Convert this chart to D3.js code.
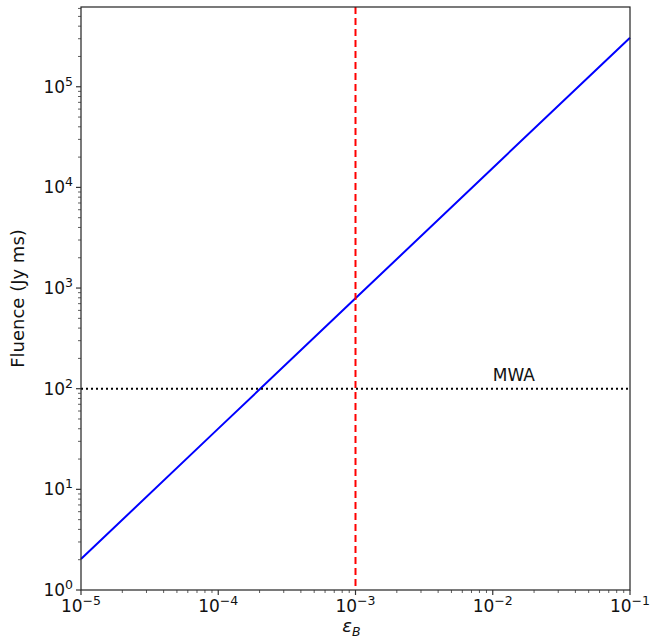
<!DOCTYPE html>
<html><head><meta charset="utf-8">
<script src="https://cdn.jsdelivr.net/npm/d3@7"></script>
<style>body{margin:0;background:#fff}svg{display:block}text{font-family:"DejaVu Sans",sans-serif;fill:#111}</style>
</head><body><svg id="c" width="653" height="638"></svg>
<script>
const epsB = [1e-5, 1e-4, 1e-3, 1e-2, 1e-1];
const fluence = [2.03, 40.1, 791, 15600, 307000];
const xDomain = [1e-5, 1e-1];
const yDomain = [1, 6.2e5];
const xTickExps = [-5, -4, -3, -2, -1];
const yTickExps = [0, 1, 2, 3, 4, 5];
const epsMarker = 1e-3;
const mwaLevel = 100;
const mwaLabel = "MWA";
const yLabel = "Fluence (Jy ms)";

const L = 81, R = 630, T = 7, B = 590;
const svg = d3.select("#c");
const x = d3.scaleLog().domain(xDomain).range([L, R]);
const y = d3.scaleLog().domain(yDomain).range([B, T]);

// lines
const line = d3.line().x((d,i)=>x(epsB[i])).y(d=>y(d));
svg.append("path").datum(fluence).attr("d", line).attr("fill","none").attr("stroke","#0000ff").attr("stroke-width",2);
svg.append("line").attr("x1",x(epsMarker)).attr("x2",x(epsMarker)).attr("y1",T).attr("y2",B)
  .attr("stroke","#ff0000").attr("stroke-width",2).attr("stroke-dasharray","7,4");
svg.append("line").attr("x1",L).attr("x2",R).attr("y1",y(mwaLevel)).attr("y2",y(mwaLevel))
  .attr("stroke","#000").attr("stroke-width",2).attr("stroke-dasharray","2,3");
svg.append("text").attr("x",x(1e-2)).attr("y",y(mwaLevel)-8).attr("font-size",17).text(mwaLabel);

// frame
svg.append("rect").attr("x",L).attr("y",T).attr("width",R-L).attr("height",B-T).attr("fill","none").attr("stroke","#222").attr("stroke-width",1.2);

// x ticks
const xt = x.ticks();
xt.forEach(v=>{
  const major = Math.abs(Math.log10(v) - Math.round(Math.log10(v))) < 1e-9;
  svg.append("line").attr("x1",x(v)).attr("x2",x(v)).attr("y1",B).attr("y2",B+(major?5:3)).attr("stroke","#333").attr("stroke-width",major?1.2:0.8);
});
xTickExps.forEach(e=>{
  const t = svg.append("text").attr("x",x(Math.pow(10,e))).attr("y",B+22).attr("text-anchor","middle").attr("font-size",17);
  t.append("tspan").text("10");
  t.append("tspan").attr("dy",-7).attr("font-size",12.5).text(e<0?"\u2212"+(-e):String(e));
});
// y ticks
const yt = y.ticks().filter(v=>v>=yDomain[0] && v<=yDomain[1]);
yt.forEach(v=>{
  const major = Math.abs(Math.log10(v) - Math.round(Math.log10(v))) < 1e-9;
  svg.append("line").attr("x1",L).attr("x2",L-(major?5:3)).attr("y1",y(v)).attr("y2",y(v)).attr("stroke","#333").attr("stroke-width",major?1.2:0.8);
});
yTickExps.forEach(e=>{
  const t = svg.append("text").attr("x",73).attr("y",y(Math.pow(10,e))+6).attr("text-anchor","end").attr("font-size",17);
  t.append("tspan").text("10");
  t.append("tspan").attr("dy",-7).attr("font-size",12.5).text(String(e));
});

// axis labels
svg.append("text").attr("transform",`translate(24,${(T+B)/2}) rotate(-90)`).attr("text-anchor","middle").attr("font-size",18).text(yLabel);
const xl = svg.append("text").attr("x",x(epsMarker)-4).attr("y",632).attr("text-anchor","middle").attr("font-size",18);
xl.append("tspan").attr("font-style","italic").text("\u03b5");
xl.append("tspan").attr("dy",4).attr("font-size",12.5).attr("font-style","italic").text("B");
</script></body></html>
